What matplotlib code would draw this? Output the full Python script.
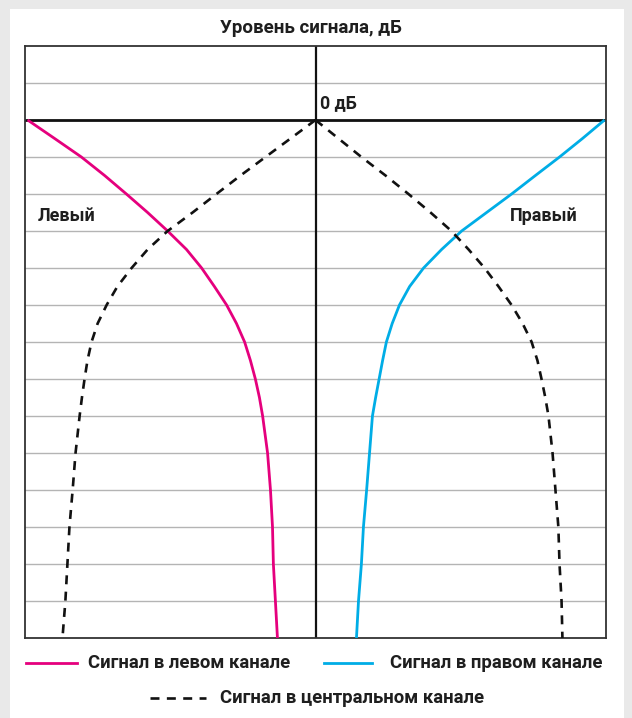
import numpy as np
import matplotlib
matplotlib.use("Agg")
import matplotlib.pyplot as plt
from matplotlib.patches import Rectangle
from matplotlib.lines import Line2D

plt.rcParams['font.family'] = ['Roboto', 'DejaVu Sans']

# signal level, in gridline steps below 0 dB
levels = [0, -0.5, -1, -1.5, -2, -2.5, -3, -3.5, -4, -4.5, -5, -5.5, -6, -6.5,
          -7, -7.5, -8, -9, -10, -11, -12, -13, -14]
# pan position (-100 = left edge, 100 = right edge)
left_ch = [-99.1, -89.8, -80.6, -72.6, -65.1, -57.8, -50.9, -44.4, -39.2, -34.8,
           -30.6, -27.2, -24.4, -22.4, -20.7, -19.3, -18.2, -16.5, -15.5, -14.8,
           -14.5, -13.8, -13.1]
right_ch = [99.5, 91.9, 84.0, 75.7, 67.5, 58.9, 50.3, 43.4, 37.2, 32.4,
            28.9, 26.4, 24.4, 23.1, 21.9, 20.7, 19.6, 18.6, 17.6, 16.5,
            15.8, 14.8, 14.1]
center_left = [0, -8.6, -17.2, -25.8, -34.1, -42.3, -50.9, -57.8, -63.3, -68.2,
               -71.9, -75.0, -77.1, -78.5, -79.5, -80.4, -81.2, -82.6, -83.6, -84.7,
               -85.4, -86.1, -87.1]
center_right = [0, 7.9, 15.8, 24.1, 32.0, 39.6, 46.8, 52.7, 58.2, 63.0,
                67.5, 71.3, 74.4, 76.4, 77.8, 79.1, 80.2, 81.6, 82.6, 83.6,
                84.0, 84.7, 85.0]

PINK = '#e5007d'
BLUE = '#00ade6'
TXT = '#1e1e1e'
DASH = (0, (3.4, 2.8))
W, H = 632, 718

fig = plt.figure(figsize=(W / 100, H / 100), dpi=100)
fig.patch.set_facecolor('#e9e9e9')

# page card + legend layer in pixel coords
bg = fig.add_axes([0, 0, 1, 1])
bg.set_xlim(0, W)
bg.set_ylim(H, 0)
bg.axis('off')
bg.add_patch(Rectangle((10, 9), 614, H, facecolor='white', edgecolor='none'))

L, R, T, B = 25, 606, 46, 638
ax = fig.add_axes([L / W, 1 - B / H, (R - L) / W, (B - T) / H])
ax.set_facecolor('white')
ax.set_xlim(-100, 100)
ax.set_ylim(-14, 2)
for y in range(-13, 2):
    ax.axhline(y, color='#b4b4b4', lw=1.0, zorder=1)
ax.axhline(0, color='#111111', lw=2.0, zorder=2)
ax.axvline(0, color='#111111', lw=1.6, zorder=2)
for s in ax.spines.values():
    s.set_color('#333333')
    s.set_linewidth(1.3)
ax.set_xticks([])
ax.set_yticks([])

ax.plot(left_ch, levels, color=PINK, lw=2.0, zorder=3, solid_capstyle='butt')
ax.plot(right_ch, levels, color=BLUE, lw=2.0, zorder=3, solid_capstyle='butt')
ax.plot(center_left, levels, color='#111111', lw=1.9, ls=DASH, zorder=4)
ax.plot(center_right, levels, color='#111111', lw=1.9, ls=DASH, zorder=4)

ax.text(1.4, 0.22, '0 дБ', fontsize=12.7, fontweight='bold', color=TXT, va='bottom', ha='left')
ax.text(-95.5, -2.6, 'Левый', fontsize=13, fontweight='bold', color=TXT, va='center', ha='left')
ax.text(90.2, -2.6, 'Правый', fontsize=13, fontweight='bold', color=TXT, va='center', ha='right')

bg.text(311, 28, 'Уровень сигнала, дБ', fontsize=13.5, fontweight='bold', color=TXT,
        ha='center', va='center')

# legend
fs = 13.3
bg.add_line(Line2D([26, 77], [663, 663], color=PINK, lw=2.0))
bg.text(88, 663, 'Сигнал в левом канале', fontsize=fs, fontweight='bold', color=TXT, va='center')
bg.add_line(Line2D([324, 372], [663, 663], color=BLUE, lw=2.0))
bg.text(390, 663, 'Сигнал в правом канале', fontsize=fs, fontweight='bold', color=TXT, va='center')
bg.add_line(Line2D([150, 206], [698, 698], color='#111111', lw=1.9, ls=DASH))
bg.text(220, 698, 'Сигнал в центральном канале', fontsize=fs, fontweight='bold', color=TXT, va='center')

fig.savefig('out.png', dpi=100)
